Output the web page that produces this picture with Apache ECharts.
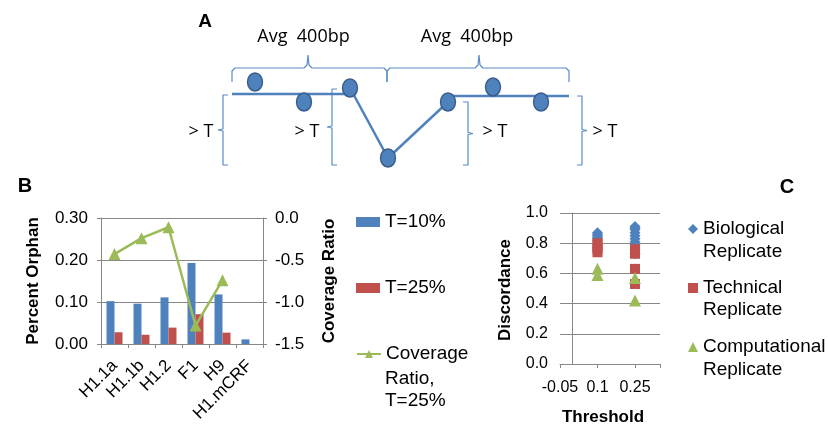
<!DOCTYPE html>
<html>
<head>
<meta charset="utf-8">
<script src="https://cdn.jsdelivr.net/npm/echarts@6/dist/echarts.min.js"></script>
<style>
  html, body { margin: 0; padding: 0; background: #fff; }
  #chart { width: 828px; height: 426px; }
</style>
</head>
<body>
<div id="chart"></div>
<script>
// ---------- Panel A: schematic (diagram units) ----------
const nucleosomes = [[255, 82], [304, 102], [350, 88], [388, 158], [448, 102], [493, 87], [541, 102]];
const leftProfile = [[232, 94], [350, 94]];
const dipProfile = [[350, 88], [388, 158], [448, 102]];
const rightProfile = [[448, 96], [569, 96]];
const spanBraces = [[232, 308, 387], [387, 479, 569]];          // from, tip, to
const spanLabels = ['Avg  400bp', 'Avg  400bp'];
const thresholdBrackets = [[223, 95, 165, -1], [332, 89, 165, -1], [468, 102, 165, 1], [582, 96, 165, 1]]; // x, top, bottom, side
const thresholdLabel = '> T';

// ---------- Panel B ----------
const categories = ['H1.1a', 'H1.1b', 'H1.2', 'F1', 'H9', 'H1.mCRF'];
const orphanT10 = [0.102, 0.096, 0.111, 0.193, 0.118, 0.011];
const orphanT25 = [0.028, 0.022, 0.039, 0.071, 0.027, 0];
const coverageRatioT25 = [-0.43, -0.24, -0.11, -1.28, -0.74, null];
const seriesNamesB = ['T=10%', 'T=25%', 'Coverage Ratio, T=25%'];

// ---------- Panel C ----------
const thresholds = [0.1, 0.25];
const biological = [[0.87, 0.86, 0.85, 0.84, 0.83, 0.82], [0.91, 0.90, 0.89, 0.87, 0.85, 0.83, 0.81, 0.79, 0.76, 0.73]];
const technical = [[0.80, 0.78, 0.76, 0.74], [0.76, 0.74, 0.73, 0.63, 0.53]];
const computational = [[0.63, 0.59], [0.57, 0.42]];
const seriesNamesC = ['Biological Replicate', 'Technical Replicate', 'Computational Replicate'];

const BLUE = '#4F81BD', RED = '#C0504D', GREEN = '#9BBB59', GRID = '#878787';
const ARIAL = '"Liberation Sans", Arial, sans-serif';
const CAL = '"Open Sans", sans-serif';

function bracePath(b) {
  const [x1, xm, x2] = b;
  return [[x1, 82], [x1, 71], [x1 + 3, 68], [xm - 4, 68], [xm - 1, 65], [xm, 55], [xm + 1, 65], [xm + 4, 68], [x2 - 3, 68], [x2, 71], [x2, 82]];
}
function bracketPath(b) {
  const [x, t, bt, s] = b;
  const arm = -s * 5;
  const mid = (t + bt) / 2 + 0;
  return [[x + arm, t], [x, t], [x, mid - 1], [x + s * 5, mid], [x, mid + 1], [x, bt], [x + arm, bt]];
}
function toPoints(groups) {
  const out = [];
  groups.forEach((vals, i) => vals.forEach(v => out.push([thresholds[i], v])));
  return out;
}

const series = [];
// Panel A
spanBraces.forEach(b => series.push({ type: 'line', xAxisIndex: 0, yAxisIndex: 0, data: bracePath(b), symbol: 'none', silent: true,
  lineStyle: { color: '#5A8AC6', width: 1.2 } }));
thresholdBrackets.forEach(b => series.push({ type: 'line', xAxisIndex: 0, yAxisIndex: 0, data: bracketPath(b), symbol: 'none', silent: true,
  lineStyle: { color: '#5A8AC6', width: 1.2 } }));
[leftProfile, dipProfile, rightProfile].forEach(p => series.push({ type: 'line', xAxisIndex: 0, yAxisIndex: 0, data: p, symbol: 'none', silent: true,
  lineStyle: { color: BLUE, width: 2.5 } }));
series.push({ type: 'scatter', xAxisIndex: 0, yAxisIndex: 0, data: nucleosomes, symbol: 'circle', symbolSize: [15, 18], silent: true, z: 5,
  itemStyle: { color: BLUE, borderColor: '#385D8A', borderWidth: 1.5, opacity: 1 } });

// Panel B
series.push({ name: seriesNamesB[0], type: 'bar', xAxisIndex: 1, yAxisIndex: 1, data: orphanT10, barWidth: 8, barGap: '0%', itemStyle: { color: BLUE } });
series.push({ name: seriesNamesB[1], type: 'bar', xAxisIndex: 1, yAxisIndex: 1, data: orphanT25, barWidth: 8, barGap: '0%', itemStyle: { color: RED } });
series.push({ name: seriesNamesB[2], type: 'line', xAxisIndex: 1, yAxisIndex: 2, data: coverageRatioT25, symbol: 'triangle', symbolSize: 12,
  lineStyle: { color: GREEN, width: 2.5 }, itemStyle: { color: GREEN, opacity: 1 }, z: 4 });

// Panel C
series.push({ name: seriesNamesC[0], type: 'scatter', xAxisIndex: 2, yAxisIndex: 3, data: toPoints(biological), symbol: 'diamond', symbolSize: 11, itemStyle: { color: BLUE, opacity: 1 } });
series.push({ name: seriesNamesC[1], type: 'scatter', xAxisIndex: 2, yAxisIndex: 3, data: toPoints(technical), symbol: 'rect', symbolSize: 10, itemStyle: { color: RED, opacity: 1 } });
series.push({ name: seriesNamesC[2], type: 'scatter', xAxisIndex: 2, yAxisIndex: 3, data: toPoints(computational), symbol: 'triangle', symbolSize: 12, itemStyle: { color: GREEN, opacity: 1 } });

const axisLineGray = { show: true, lineStyle: { color: GRID, width: 1 } };

function txt(x, y, text, opts) {
  return Object.assign({ type: 'text', x: x, y: y, silent: true,
    style: Object.assign({ text: text, fill: '#000', align: 'center', verticalAlign: 'middle', fontFamily: ARIAL, fontSize: 17 }, opts || {}) });
}
function rtxt(x, y, text, opts) {
  const t = txt(x, y, text, opts); t.rotation = Math.PI / 2; return t;
}

const graphics = [
  txt(205, 22, 'A', { fontWeight: 'bold', fontSize: 19 }),
  txt(25, 186, 'B', { fontWeight: 'bold', fontSize: 20 }),
  txt(787, 187, 'C', { fontWeight: 'bold', fontSize: 20 }),
  txt((spanBraces[0][0] + spanBraces[0][2]) / 2 - 6, 37, spanLabels[0], { fontFamily: CAL, fontSize: 18 }),
  txt((spanBraces[1][0] + spanBraces[1][2]) / 2 - 11, 37, spanLabels[1], { fontFamily: CAL, fontSize: 18 }),
  txt(201, 132, thresholdLabel, { fontFamily: CAL, fontSize: 18 }),
  txt(307, 132, thresholdLabel, { fontFamily: CAL, fontSize: 18 }),
  txt(495, 132, thresholdLabel, { fontFamily: CAL, fontSize: 18 }),
  txt(605, 132, thresholdLabel, { fontFamily: CAL, fontSize: 18 }),
  rtxt(33, 281, 'Percent Orphan', { fontWeight: 'bold' }),
  rtxt(329, 281, 'Coverage Ratio', { fontWeight: 'bold' }),
  rtxt(505, 290, 'Discordance', { fontWeight: 'bold' }),
  txt(603, 417, 'Threshold', { fontWeight: 'bold' }),
  txt(385, 379, 'Ratio,', { align: 'left', fontSize: 19 }),
  txt(385, 401, 'T=25%', { align: 'left', fontSize: 19 }),
  txt(703, 252, 'Replicate', { align: 'left', fontSize: 19 }),
  txt(703, 310, 'Replicate', { align: 'left', fontSize: 19 }),
  txt(703, 370, 'Replicate', { align: 'left', fontSize: 19 })
];

function legendItem(name, left, top, w, h, label, icon) {
  const l = { data: [name], left: left, top: top, padding: 0, itemWidth: w, itemHeight: h, selectedMode: false,
    textStyle: { fontFamily: ARIAL, fontSize: 19, color: '#000', lineHeight: 20 },
    formatter: label ? () => label : undefined };
  if (icon) l.icon = icon;
  return l;
}

const option = {
  backgroundColor: '#fff',
  animation: false,
  grid: [
    { left: 0, top: 0, width: 828, height: 180 },
    { left: 101, top: 218, width: 162, height: 126 },
    { left: 560, top: 213, width: 100, height: 151 }
  ],
  xAxis: [
    { gridIndex: 0, type: 'value', min: 0, max: 828, show: false },
    { gridIndex: 1, type: 'category', data: categories,
      axisLine: axisLineGray, axisTick: { show: true, length: 4, lineStyle: { color: GRID } },
      axisLabel: { rotate: 45, interval: 0, margin: 19, fontFamily: ARIAL, fontSize: 17, color: '#000' } },
    { gridIndex: 2, type: 'value', min: -0.05, max: 0.35, interval: 0.15,
      axisLine: axisLineGray, axisTick: { show: true, length: 4, lineStyle: { color: GRID } }, splitLine: { show: false },
      axisLabel: { margin: 16, fontFamily: ARIAL, fontSize: 16, color: '#000',
        formatter: v => (v > 0.3 ? '' : String(parseFloat(v.toFixed(2)))) } }
  ],
  yAxis: [
    { gridIndex: 0, type: 'value', min: 0, max: 180, inverse: true, show: false },
    { gridIndex: 1, type: 'value', min: 0, max: 0.3, interval: 0.1,
      axisLine: axisLineGray, axisTick: { show: true, length: 4, lineStyle: { color: GRID } },
      splitLine: { show: true, lineStyle: { color: GRID } },
      axisLabel: { margin: 13, fontFamily: ARIAL, fontSize: 17, color: '#000', formatter: v => v.toFixed(2) } },
    { gridIndex: 1, type: 'value', position: 'right', min: -1.5, max: 0, interval: 0.5,
      axisLine: axisLineGray, axisTick: { show: true, length: 4, lineStyle: { color: GRID } },
      splitLine: { show: false },
      axisLabel: { margin: 12, fontFamily: ARIAL, fontSize: 17, color: '#000', formatter: v => v.toFixed(1) } },
    { gridIndex: 2, type: 'value', min: 0, max: 1, interval: 0.2,
      axisLine: axisLineGray, axisTick: { show: true, length: 4, lineStyle: { color: GRID } },
      splitLine: { show: true, lineStyle: { color: GRID } },
      axisLabel: { margin: 12, fontFamily: ARIAL, fontSize: 16, color: '#000', formatter: v => v.toFixed(1) } }
  ],
  legend: [
    legendItem(seriesNamesB[0], 356, 212, 24, 10, null, 'rect'),
    legendItem(seriesNamesB[1], 356, 278, 24, 10, null, 'rect'),
    legendItem(seriesNamesB[2], 356, 344, 24, 10, 'Coverage'),
    legendItem(seriesNamesC[0], 688, 219, 10, 10, 'Biological'),
    legendItem(seriesNamesC[1], 688, 278, 10, 10, 'Technical'),
    legendItem(seriesNamesC[2], 688, 337, 10, 10, 'Computational')
  ],
  graphic: graphics,
  series: series
};

const chart = echarts.init(document.getElementById('chart'), null, { renderer: 'canvas' });
chart.setOption(option);
</script>
</body>
</html>
